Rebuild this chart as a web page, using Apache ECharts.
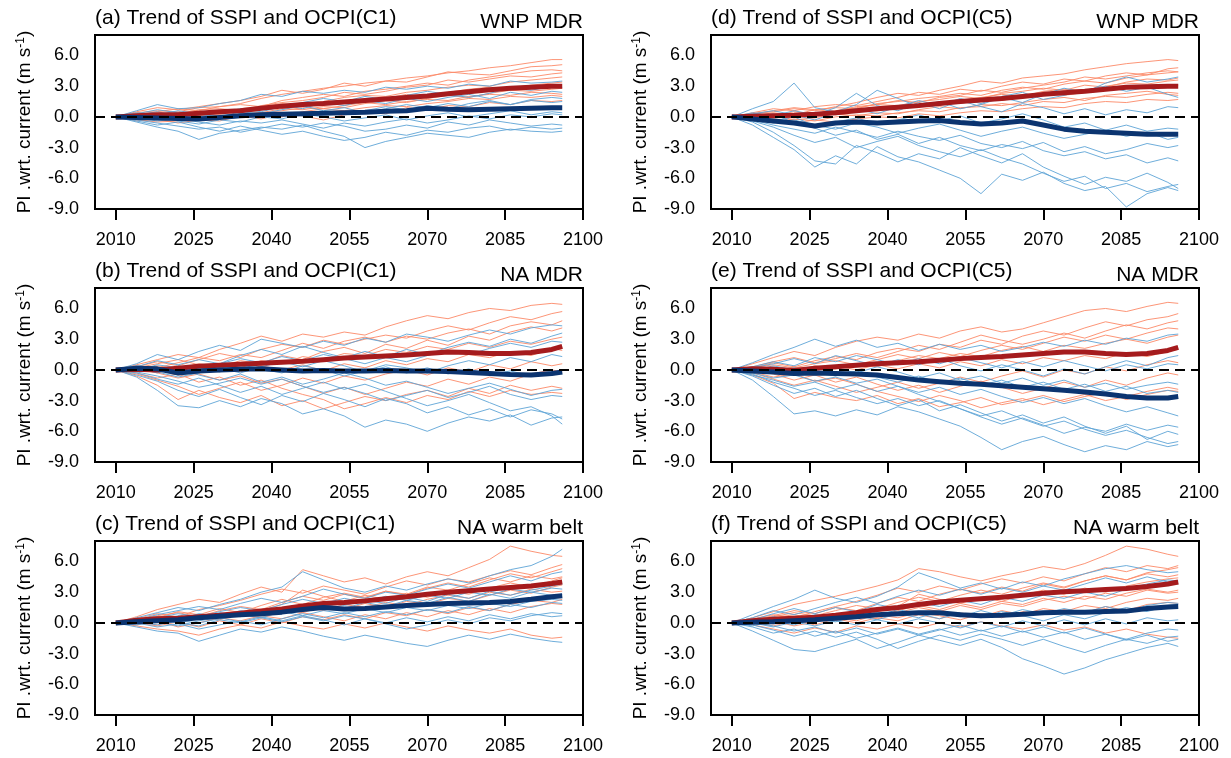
<!DOCTYPE html>
<html>
<head>
<meta charset="utf-8">
<script src="https://cdn.jsdelivr.net/npm/echarts@6/dist/echarts.min.js"></script>
<style>
  html, body { margin: 0; background: #fff; }
  #chart { width: 1231px; height: 758px; }
</style>
</head>
<body>
<div id="chart"></div>
<script>
// sample years (every 4 yr, last point 2096)
const years = [2010, 2014, 2018, 2022, 2026, 2030, 2034, 2038, 2042, 2046, 2050, 2054,
  2058, 2062, 2066, 2070, 2074, 2078, 2082, 2086, 2090, 2094, 2096];
const xTicks = [2010, 2025, 2040, 2055, 2070, 2085, 2100];
const panelTitles = ["(a) Trend of SSPI and OCPI(C1)", "(b) Trend of SSPI and OCPI(C1)", "(c) Trend of SSPI and OCPI(C1)",
  "(d) Trend of SSPI and OCPI(C5)", "(e) Trend of SSPI and OCPI(C5)", "(f) Trend of SSPI and OCPI(C5)"];
const regions = ["WNP MDR", "NA MDR", "NA warm belt", "WNP MDR", "NA MDR", "NA warm belt"];

// (a) WNP MDR, C1
const redMeanA = [0, 0.1, 0.2, 0.2, 0.35, 0.5, 0.6, 0.85, 1.05, 1.2, 1.3, 1.45, 1.6, 1.75, 1.9, 2.05, 2.25, 2.45, 2.65, 2.8, 2.9, 3.0, 3.0];
const blueMeanA = [0, -0.05, -0.1, -0.15, -0.2, -0.05, 0.1, 0.2, 0.25, 0.3, 0.35, 0.4, 0.45, 0.55, 0.6, 0.85, 0.75, 0.7, 0.75, 0.8, 0.85, 0.9, 0.9];
const redEnsA = [
  [0, 0.4, 0.6, 0.5, 0.9, 1.0, 1.3, 1.8, 2.2, 2.5, 2.8, 3.0, 3.3, 3.5, 3.8, 4.0, 4.3, 4.5, 4.8, 5.0, 5.3, 5.6, 5.6],
  [0, 0.2, 0.5, 0.8, 0.6, 1.0, 1.2, 1.0, 1.6, 1.9, 2.2, 2.0, 2.5, 2.7, 3.0, 3.3, 3.1, 3.6, 3.9, 4.2, 4.5, 4.6, 4.5],
  [0, -0.2, 0.1, 0.3, 0.5, 0.4, 0.8, 1.0, 1.3, 1.1, 1.5, 1.9, 2.1, 2.0, 2.4, 2.6, 2.9, 3.1, 3.0, 3.4, 3.6, 3.8, 3.9],
  [0, 0.1, -0.3, 0.0, 0.2, 0.6, 0.5, 0.7, 0.9, 1.3, 1.2, 1.6, 1.5, 1.8, 2.2, 2.0, 2.4, 2.7, 2.9, 2.8, 3.1, 3.3, 3.4],
  [0, 0.3, 0.2, -0.2, 0.1, 0.3, 0.6, 0.4, 0.8, 0.7, 1.0, 0.9, 1.3, 1.6, 1.4, 1.8, 2.1, 1.9, 2.3, 2.6, 2.5, 2.7, 2.8],
  [0, -0.3, -0.5, -0.4, -0.1, 0.2, 0.0, 0.4, 0.6, 0.9, 0.8, 1.1, 1.4, 1.2, 1.5, 1.7, 1.6, 2.0, 2.2, 2.1, 2.4, 2.3, 2.2],
  [0, 0.5, 0.9, 0.7, 1.0, 1.3, 1.6, 2.0, 2.6, 2.3, 2.7, 3.3, 3.0, 3.5, 3.4, 3.9, 4.4, 4.2, 4.1, 4.5, 4.9, 5.0, 5.1],
  [0, -0.1, 0.2, 0.4, 0.1, -0.1, 0.3, 0.2, 0.0, 0.5, 0.8, 0.6, 0.9, 1.1, 1.0, 1.3, 1.5, 1.8, 1.7, 2.0, 1.9, 2.1, 2.0],
  [0, 0.2, 0.0, 0.3, 0.7, 0.8, 0.6, 1.1, 1.4, 1.6, 1.9, 2.4, 2.2, 2.5, 2.9, 3.1, 3.6, 3.4, 3.7, 4.0, 3.9, 4.2, 4.3],
  [0, -0.4, -0.2, -0.6, -0.3, -0.4, 0.1, -0.2, 0.3, 0.1, -0.3, 0.2, 0.4, 0.3, 0.9, 0.7, 1.1, 1.0, 1.4, 1.2, 1.6, 1.5, 1.6]
];
const blueEnsA = [
  [0, 0.6, 1.2, 0.8, 0.9, 1.3, 1.6, 2.2, 2.0, 2.5, 2.3, 2.6, 2.4, 2.9, 2.7, 3.0, 2.8, 3.2, 3.0, 3.5, 3.3, 3.4, 3.5],
  [0, -0.5, -1.0, -1.4, -2.2, -1.6, -1.3, -1.0, -1.2, -0.8, -1.4, -1.9, -3.0, -2.4, -2.0, -1.6, -1.8, -2.0, -1.5, -1.2, -1.4, -1.5, -1.4],
  [0, 0.2, 0.5, 0.1, 0.3, 0.6, 0.4, 0.9, 1.2, 0.8, 1.4, 1.1, 1.6, 1.3, 1.8, 1.5, 1.9, 2.2, 1.8, 2.4, 2.1, 2.5, 2.4],
  [0, -0.3, -0.6, -0.9, -1.2, -1.0, -1.5, -1.1, -0.7, -1.0, -0.6, -0.9, -1.4, -1.2, -0.8, -1.1, -0.5, -0.8, -0.3, -0.6, -0.9, -0.7, -0.8],
  [0, 0.4, 0.2, 0.6, 0.3, 0.0, 0.5, 0.3, 0.7, 1.1, 0.6, 0.9, 0.4, 0.8, 1.2, 0.9, 1.3, 1.0, 1.5, 1.2, 1.6, 1.4, 1.5],
  [0, -0.2, 0.1, -0.4, -0.7, -0.3, -0.5, 0.0, -0.2, 0.3, 0.0, -0.4, -0.1, 0.2, -0.3, 0.1, 0.4, 0.0, 0.3, 0.6, 0.2, 0.5, 0.4],
  [0, 0.1, -0.2, 0.3, 0.0, 0.4, 0.8, 0.5, 1.0, 1.4, 1.8, 1.5, 2.0, 1.7, 2.1, 2.5, 2.2, 1.9, 2.3, 2.8, 2.6, 3.0, 2.9],
  [0, -0.4, -0.8, -0.5, -1.0, -1.4, -0.9, -1.3, -1.7, -1.4, -1.9, -2.3, -2.0, -1.5, -1.8, -1.3, -1.5, -1.1, -0.9, -1.3, -1.0, -1.2, -1.1],
  [0, 0.3, 0.7, 0.4, 0.1, -0.2, 0.2, -0.1, 0.4, 0.1, 0.5, 0.2, 0.6, 1.0, 0.7, 1.1, 0.8, 1.3, 1.6, 1.2, 1.7, 1.9, 1.8],
  [0, -0.1, -0.4, -0.2, -0.5, -0.8, -0.4, -0.6, -0.3, -0.7, -1.1, -0.6, -0.9, -0.5, -0.2, -0.6, -0.3, 0.1, -0.2, 0.2, 0.0, 0.3, 0.2]
];

// (b) NA MDR, C1
const redMeanB = [0, 0.05, 0.0, 0.15, 0.35, 0.45, 0.55, 0.65, 0.75, 0.85, 1.0, 1.15, 1.25, 1.35, 1.45, 1.6, 1.75, 1.7, 1.6, 1.6, 1.7, 2.0, 2.3];
const blueMeanB = [0, 0.15, 0.1, -0.3, -0.1, 0.0, 0.05, 0.1, 0.0, -0.1, -0.05, -0.1, -0.1, -0.05, -0.1, -0.1, -0.15, -0.25, -0.35, -0.45, -0.5, -0.35, -0.2];
const redEnsB = [
  [0, 0.5, 1.0, 1.5, 1.2, 2.0, 2.6, 3.3, 2.8, 3.5, 3.2, 3.7, 3.4, 4.2, 4.8, 5.3, 5.0, 5.6, 6.0, 5.8, 6.3, 6.5, 6.4],
  [0, -0.6, -1.5, -2.9, -2.0, -2.7, -3.2, -2.5, -3.5, -3.0, -3.8, -3.2, -2.6, -3.0, -2.4, -2.0, -2.6, -1.8, -2.3, -1.5, -2.0, -1.6, -1.8],
  [0, 0.3, 0.8, 0.4, 1.0, 1.6, 1.2, 2.0, 2.5, 2.2, 2.9, 2.5, 3.0, 3.4, 3.1, 3.8, 4.3, 3.9, 4.6, 5.2, 4.9, 5.5, 5.7],
  [0, -0.2, 0.3, -0.5, -0.2, 0.5, 0.2, 0.9, 0.6, 1.3, 1.0, 1.6, 1.4, 2.0, 1.7, 2.3, 2.0, 2.6, 2.2, 2.8, 2.5, 3.0, 3.2],
  [0, -0.4, -1.0, -1.6, -2.4, -1.8, -1.2, -2.0, -1.5, -0.8, -1.3, -0.6, -1.0, -0.4, 0.0, -0.5, 0.2, -0.2, 0.5, 0.1, 0.8, 0.4, 0.6],
  [0, 0.2, 0.6, 1.0, 0.5, 0.3, 0.9, 0.6, 1.4, 1.0, 1.8, 2.2, 1.6, 2.5, 2.1, 2.9, 2.4, 3.3, 2.9, 3.7, 4.2, 3.8, 4.1],
  [0, 0.1, -0.3, -0.8, -0.4, -1.0, -0.6, -1.3, -0.9, -1.6, -2.3, -1.7, -2.4, -1.8, -1.2, -1.6, -0.9, -1.4, -0.7, -1.1, -0.4, 0.0, -0.2],
  [0, 0.4, 0.2, 0.7, 1.2, 0.9, 1.5, 1.2, 1.9, 2.6, 2.1, 2.8, 3.2, 2.7, 3.3, 3.0, 3.6, 4.0, 3.5, 4.3, 4.7, 4.4, 4.8],
  [0, -0.1, 0.4, 0.1, 0.6, 0.3, -0.2, 0.4, 0.0, 0.5, -0.1, 0.6, 0.2, 0.9, 0.5, 1.1, 0.8, 1.5, 1.2, 1.8, 1.4, 2.1, 1.9],
  [0, -0.3, -0.8, -0.4, -1.2, -0.7, -1.5, -1.0, -1.8, -2.4, -2.9, -3.8, -3.3, -2.7, -3.2, -2.5, -2.9, -2.1, -2.6, -2.0, -2.4, -2.2, -2.3]
];
const blueEnsB = [
  [0, 0.6, 1.5, 1.0, 1.8, 2.4, 1.9, 3.0, 2.6, 2.2, 2.8, 2.4, 3.1, 2.7, 3.5, 3.2, 2.8, 3.4, 3.9, 3.5, 4.1, 4.4, 4.3],
  [0, -0.7, -2.0, -3.5, -3.7, -3.0, -3.6, -2.8, -3.3, -4.3, -3.8, -4.5, -5.6, -4.9, -5.3, -6.0, -5.2, -4.6, -5.0, -4.4, -5.4, -4.7, -4.6],
  [0, 0.2, -0.3, 0.4, 0.0, 0.6, 1.1, 0.7, 1.3, 0.9, 1.5, 1.1, 0.6, 1.2, 0.8, 1.4, 1.9, 1.5, 2.1, 2.6, 2.2, 2.8, 2.7],
  [0, -0.3, -0.9, -1.4, -0.8, -1.5, -2.2, -1.6, -2.4, -1.8, -1.2, -1.9, -1.4, -2.1, -2.8, -3.5, -3.0, -2.4, -3.2, -4.0, -3.6, -4.5, -5.3],
  [0, 0.4, 0.1, -0.4, 0.3, -0.2, 0.5, 0.1, -0.3, 0.4, 0.0, -0.6, -0.1, 0.5, 0.2, -0.3, 0.4, 0.9, 0.5, 1.2, 0.8, 1.5, 1.3],
  [0, -0.1, 0.5, 0.2, -0.5, -1.0, -0.4, -1.2, -0.7, -1.4, -0.9, -0.3, -0.8, -1.5, -1.1, -1.7, -2.3, -1.8, -1.3, -1.9, -2.5, -2.0, -1.9],
  [0, 0.3, 0.9, 0.5, 1.0, 0.6, 1.4, 2.0, 1.5, 2.3, 1.7, 1.2, 1.8, 1.3, 2.0, 1.5, 2.2, 2.7, 2.3, 3.0, 2.6, 3.3, 3.6],
  [0, -0.5, -1.1, -2.0, -2.6, -1.9, -2.7, -3.4, -2.5, -3.1, -2.3, -2.9, -3.6, -2.8, -3.3, -4.2, -3.6, -4.4, -3.8, -4.6, -3.9, -4.3, -4.8],
  [0, 0.1, -0.2, -0.7, -0.3, 0.2, -0.3, 0.3, 0.8, 0.3, 0.9, 0.4, -0.2, 0.3, -0.3, 0.2, -0.4, 0.1, -0.5, -0.1, -0.6, -0.2, -0.4],
  [0, -0.2, -0.6, -1.1, -1.7, -1.3, -0.8, -1.4, -0.9, -1.6, -2.2, -1.7, -2.3, -3.0, -2.5, -2.0, -2.7, -2.2, -1.6, -2.4, -2.9, -2.5, -2.6]
];

// (c) NA warm belt, C1
const redMeanC = [0, 0.25, 0.4, 0.45, 0.6, 0.75, 0.95, 1.15, 1.35, 1.65, 1.9, 2.0, 2.15, 2.35, 2.55, 2.8, 3.0, 3.15, 3.3, 3.45, 3.6, 3.85, 4.0];
const blueMeanC = [0, 0.1, 0.2, 0.3, 0.5, 0.65, 0.8, 0.9, 1.05, 1.3, 1.5, 1.35, 1.4, 1.55, 1.7, 1.8, 1.9, 1.95, 2.0, 2.1, 2.3, 2.55, 2.65];
const redEnsC = [
  [0, 0.6, 1.3, 1.8, 2.3, 2.0, 2.8, 3.5, 3.0, 5.2, 4.6, 4.0, 4.4, 3.8, 4.5, 5.0, 4.6, 5.4, 6.2, 7.5, 7.0, 6.6, 6.5],
  [0, -0.3, -0.6, -0.8, -1.2, -0.6, -0.2, -0.5, 0.1, -0.3, -0.6, -0.1, -0.5, 0.0, -0.4, -0.8, -0.3, -0.7, -1.0, -0.6, -1.2, -1.5, -1.4],
  [0, 0.3, 0.7, 1.0, 0.6, 1.2, 1.6, 1.3, 2.0, 2.6, 2.2, 2.8, 2.4, 3.1, 2.7, 3.4, 3.9, 3.5, 4.2, 4.8, 4.4, 5.0, 5.3],
  [0, 0.1, 0.4, 0.2, 0.8, 0.5, 1.1, 0.8, 1.4, 1.0, 1.6, 1.3, 1.9, 1.5, 2.1, 1.8, 2.4, 2.1, 2.7, 3.2, 2.9, 3.5, 3.7],
  [0, -0.2, 0.2, -0.4, 0.0, 0.5, 0.2, 0.7, 0.4, 1.0, 0.6, 0.2, 0.8, 0.4, 1.0, 0.6, 1.2, 0.8, 1.4, 1.0, 1.6, 1.9, 1.8],
  [0, 0.4, 0.9, 0.6, 1.3, 1.7, 2.2, 2.8, 3.3, 2.9, 3.6, 3.2, 2.8, 3.5, 4.1, 3.7, 4.3, 4.0, 4.6, 5.1, 4.7, 5.4, 5.7],
  [0, 0.0, -0.3, 0.1, -0.4, 0.2, -0.2, 0.4, 0.0, 0.6, 0.3, 0.8, 0.4, 1.0, 0.7, 1.3, 0.9, 1.5, 1.2, 1.8, 2.2, 2.0, 2.3],
  [0, 0.2, 0.5, 1.1, 0.8, 1.4, 1.0, 1.7, 2.3, 1.8, 2.5, 2.9, 2.5, 3.1, 2.8, 3.5, 3.2, 3.8, 4.4, 4.0, 4.6, 4.3, 4.5],
  [0, 0.1, -0.2, 0.3, 0.6, 0.3, 0.9, 0.5, 1.1, 1.6, 1.2, 1.8, 1.5, 2.0, 1.7, 2.3, 2.7, 2.4, 3.0, 2.7, 3.3, 3.0, 3.1],
  [0, 0.3, 0.6, 0.2, 0.5, 0.9, 0.6, 1.2, 1.8, 3.2, 2.6, 2.1, 2.7, 2.3, 2.9, 2.5, 3.1, 2.8, 3.4, 3.9, 3.5, 4.1, 4.4]
];
const blueEnsC = [
  [0, 0.5, 1.0, 1.5, 1.2, 1.8, 2.3, 3.0, 3.5, 5.0, 4.2, 3.4, 3.0, 3.6, 3.2, 3.8, 4.3, 3.9, 4.6, 5.2, 5.6, 6.5, 7.2],
  [0, -0.4, -0.8, -1.0, -1.8, -1.2, -0.6, -0.9, -0.4, -0.8, -1.3, -1.7, -1.2, -1.6, -2.0, -2.3, -1.7, -1.2, -1.6, -1.1, -1.5, -1.8, -1.9],
  [0, 0.2, 0.6, 0.3, 0.9, 0.6, 1.2, 0.9, 1.5, 1.1, 1.8, 1.4, 2.0, 1.6, 2.2, 1.9, 2.5, 2.1, 2.8, 2.4, 3.0, 3.4, 3.3],
  [0, -0.2, 0.1, -0.3, 0.2, 0.5, 0.1, 0.6, 0.2, 0.7, 0.3, -0.2, 0.4, 0.0, 0.5, 0.1, 0.6, 0.2, 0.8, 0.4, 0.9, 0.6, 0.7],
  [0, 0.3, 0.8, 1.2, 1.6, 1.3, 1.9, 2.4, 2.0, 2.6, 3.3, 2.8, 2.4, 3.0, 2.7, 3.3, 3.8, 3.4, 4.0, 4.6, 4.1, 4.8, 5.0],
  [0, 0.0, -0.4, -0.1, -0.6, -0.2, 0.2, -0.2, 0.4, 0.9, 0.5, 1.0, 0.6, 1.1, 0.8, 1.3, 1.0, 1.6, 1.2, 1.8, 1.5, 2.0, 1.9],
  [0, 0.4, 0.2, 0.7, 0.4, 1.0, 0.7, 1.3, 1.0, 1.6, 2.0, 1.7, 2.2, 1.9, 2.5, 2.1, 2.8, 2.4, 3.1, 2.7, 3.2, 3.6, 3.8],
  [0, -0.1, 0.3, 0.0, -0.3, 0.3, 0.0, 0.5, 0.1, 0.6, 0.2, 0.7, 0.4, -0.1, -0.6, -0.2, 0.3, -0.1, 0.5, 0.2, 0.7, 1.0, 0.9],
  [0, 0.2, 0.5, 0.9, 0.6, 1.1, 1.5, 1.2, 1.8, 2.3, 1.9, 2.4, 2.0, 2.6, 2.2, 2.7, 2.4, 3.0, 2.7, 3.3, 3.0, 2.7, 2.8],
  [0, 0.1, -0.2, 0.2, 0.0, 0.4, 0.8, 0.5, 1.1, 0.7, 1.2, 0.9, 1.4, 1.0, 1.5, 1.2, 1.7, 1.4, 1.9, 1.6, 2.1, 2.3, 2.2]
];

// (d) WNP MDR, C5
const redMeanD = [0, 0.05, 0.1, 0.15, 0.25, 0.4, 0.6, 0.8, 0.95, 1.1, 1.3, 1.5, 1.65, 1.8, 2.0, 2.2, 2.35, 2.5, 2.7, 2.9, 2.95, 3.0, 3.0];
const blueMeanD = [0, -0.2, -0.4, -0.6, -0.9, -0.6, -0.5, -0.6, -0.5, -0.4, -0.35, -0.55, -0.7, -0.6, -0.4, -0.8, -1.2, -1.4, -1.5, -1.6, -1.7, -1.7, -1.7];
const redEnsD = [
  [0, 0.3, 0.5, 0.8, 0.6, 1.0, 1.4, 1.9, 2.3, 2.1, 2.6, 3.0, 3.5, 3.3, 3.8, 4.0, 4.2, 4.6, 4.9, 5.2, 5.4, 5.6, 5.5],
  [0, 0.1, 0.4, 0.2, 0.7, 0.9, 0.8, 1.3, 1.5, 1.8, 2.0, 2.3, 2.1, 2.6, 2.9, 2.7, 3.2, 3.5, 3.3, 3.8, 4.1, 4.3, 4.4],
  [0, -0.2, 0.0, 0.3, 0.2, 0.5, 0.7, 0.6, 1.0, 1.3, 1.2, 1.6, 1.9, 2.2, 2.0, 2.5, 2.7, 2.6, 3.0, 3.3, 3.2, 3.5, 3.6],
  [0, 0.2, -0.1, 0.1, 0.4, 0.2, 0.5, 0.9, 0.8, 1.1, 1.4, 1.3, 1.7, 1.6, 2.0, 2.3, 2.1, 2.4, 2.6, 2.9, 2.8, 3.0, 3.1],
  [0, -0.3, -0.5, -0.2, -0.4, 0.0, 0.2, 0.1, 0.4, 0.6, 0.5, 0.9, 1.0, 1.3, 1.1, 1.5, 1.4, 1.8, 2.0, 1.9, 2.2, 2.4, 2.3],
  [0, 0.4, 0.8, 0.6, 1.0, 1.2, 1.1, 1.5, 1.9, 2.4, 2.2, 2.7, 2.5, 3.0, 3.4, 3.2, 3.7, 3.5, 4.0, 4.3, 4.1, 4.7, 4.8],
  [0, 0.0, 0.2, -0.3, -0.1, 0.3, 0.1, 0.4, 0.3, 0.7, 1.0, 0.8, 1.2, 1.1, 1.4, 1.7, 1.9, 1.6, 2.1, 2.3, 2.5, 2.2, 2.1],
  [0, 0.2, 0.1, 0.5, 0.3, 0.6, 1.0, 1.2, 1.1, 1.5, 1.7, 2.0, 1.8, 2.3, 2.5, 2.8, 2.6, 3.1, 2.9, 3.4, 3.7, 3.6, 3.8],
  [0, -0.1, -0.4, -0.6, -0.3, -0.5, -0.2, 0.0, -0.1, 0.3, 0.1, 0.4, 0.6, 0.5, 0.8, 1.0, 0.9, 1.3, 1.5, 1.4, 1.7, 1.6, 1.7],
  [0, 0.3, 0.6, 0.9, 0.7, 0.5, 0.9, 1.2, 1.6, 1.4, 1.9, 2.1, 2.6, 2.4, 2.8, 3.1, 3.4, 3.9, 3.7, 4.0, 4.3, 4.5, 4.4]
];
const blueEnsD = [
  [0, 0.8, 1.5, 3.3, 0.9, 0.5, 1.2, 2.6, 1.8, 1.0, 1.5, 0.8, 1.2, 1.9, 1.4, 2.2, 2.8, 2.4, 3.3, 3.9, 3.4, 3.7, 3.9],
  [0, -0.8, -2.0, -3.2, -4.9, -3.8, -4.6, -2.9, -3.9, -4.4, -5.2, -6.0, -7.5, -5.6, -6.2, -5.4, -6.5, -7.2, -6.8, -8.8, -7.5, -6.9, -7.2],
  [0, -0.3, -0.8, -1.2, -1.6, -1.0, -1.5, -2.0, -1.4, -1.9, -2.3, -1.8, -2.6, -3.0, -2.4, -3.3, -3.8, -3.4, -4.1, -3.7, -4.5, -4.0, -4.3],
  [0, 0.4, 0.1, 0.6, 0.2, 0.9, 2.3, 1.1, 0.6, 1.4, 0.8, 1.6, 1.0, 0.5, 1.3, 0.9, 0.3, 0.8, 0.2, 0.7, 0.4, 1.0, 0.9],
  [0, -0.5, -1.5, -2.8, -4.3, -4.6, -2.8, -3.5, -4.4, -3.6, -4.1, -3.0, -3.8, -4.5, -3.6, -4.9, -5.8, -6.6, -5.9, -6.3, -5.5, -6.4, -7.0],
  [0, 0.2, -0.4, 0.0, -0.9, -0.5, -0.1, -0.7, -0.3, 0.2, -0.4, 0.1, -0.6, -0.2, 0.3, -0.3, -1.0, -0.6, -1.3, -0.8, -1.4, -1.1, -1.2],
  [0, -0.2, 0.3, -0.6, -1.1, -1.8, -1.3, -2.2, -1.7, -2.6, -2.0, -2.8, -3.3, -2.7, -3.1, -2.5, -3.4, -2.9, -3.6, -3.2, -2.6, -3.0, -2.8],
  [0, 0.3, 0.6, 0.2, -0.3, 0.4, 0.8, 0.3, 1.0, 1.6, 1.1, 1.8, 1.3, 2.0, 2.4, 1.7, 2.1, 2.6, 3.0, 2.5, 2.9, 2.2, 1.9],
  [0, -0.4, -1.0, -1.8, -2.5, -2.0, -3.0, -2.4, -1.9, -2.8, -3.4, -3.9, -3.2, -4.0, -4.6, -5.5, -6.3, -5.8, -7.0, -6.5, -7.3, -6.8, -6.6],
  [0, -0.1, -0.6, -0.3, -0.8, -1.2, -0.6, -1.0, -1.6, -1.1, -0.7, -1.3, -1.9, -1.4, -1.0, -1.6, -2.1, -1.7, -1.3, -1.9, -1.5, -2.2, -2.0]
];

// (e) NA MDR, C5
const redMeanE = [0, 0.1, 0.05, -0.05, 0.15, 0.3, 0.45, 0.6, 0.7, 0.8, 0.95, 1.1, 1.2, 1.3, 1.45, 1.6, 1.75, 1.75, 1.6, 1.5, 1.6, 1.9, 2.2];
const blueMeanE = [0, -0.1, -0.2, -0.35, -0.3, -0.35, -0.4, -0.5, -0.75, -1.0, -1.15, -1.3, -1.4, -1.55, -1.7, -1.85, -2.0, -2.15, -2.35, -2.6, -2.75, -2.75, -2.6];
const redEnsE = [
  [0, 0.6, 1.2, 1.8, 1.4, 2.2, 2.8, 3.2, 2.9, 3.5, 3.1, 3.8, 4.2, 3.7, 4.0, 4.6, 5.2, 5.8, 6.0, 5.7, 6.2, 6.6, 6.5],
  [0, -0.5, -1.3, -2.8, -2.2, -2.7, -3.0, -2.5, -3.3, -2.8, -3.6, -3.2, -2.7, -3.4, -3.0, -2.5, -3.1, -2.6, -2.2, -2.9, -2.4, -2.0, -2.1],
  [0, 0.2, 0.7, 0.3, 0.9, 1.3, 1.0, 1.7, 2.1, 1.8, 2.5, 2.2, 2.9, 2.5, 3.3, 3.8, 3.4, 4.1, 4.7, 4.3, 4.9, 5.2, 5.5],
  [0, -0.1, 0.3, -0.2, 0.4, 0.1, 0.6, 0.3, 0.9, 1.4, 1.1, 1.6, 1.3, 1.9, 2.3, 1.8, 2.4, 2.1, 2.6, 3.0, 2.6, 3.2, 3.4],
  [0, -0.3, -0.9, -1.5, -1.0, -1.6, -2.2, -1.7, -1.2, -1.8, -1.3, -0.7, -1.2, -0.6, -0.1, -0.7, 0.0, -0.4, 0.3, -0.1, 0.5, 0.9, 0.7],
  [0, 0.3, 0.8, 1.2, 0.7, 1.1, 1.6, 1.2, 1.8, 2.4, 2.0, 2.7, 3.4, 2.9, 2.5, 3.0, 3.6, 3.1, 3.8, 4.4, 4.0, 4.6, 4.8],
  [0, 0.0, -0.4, -1.0, -0.5, -1.2, -0.7, -1.4, -2.0, -1.5, -2.2, -1.6, -1.1, -1.7, -2.3, -1.8, -1.2, -1.7, -1.0, -1.5, -0.8, -0.3, -0.5],
  [0, 0.2, 0.5, 0.2, 0.6, 0.9, 0.5, 1.0, 1.5, 1.1, 1.7, 1.3, 1.9, 2.4, 2.0, 2.6, 3.2, 2.8, 3.4, 3.0, 3.6, 4.1, 4.0],
  [0, 0.1, -0.2, 0.3, -0.1, 0.4, 0.0, 0.5, 0.1, 0.6, 0.2, 0.8, 0.4, 1.0, 0.6, 1.2, 0.9, 1.4, 1.1, 1.7, 1.3, 1.8, 2.0],
  [0, -0.2, -0.7, -0.4, -1.1, -0.8, -1.4, -2.1, -2.6, -3.1, -2.5, -3.0, -3.7, -3.2, -2.8, -3.4, -2.9, -2.4, -3.0, -2.6, -2.1, -1.7, -1.9]
];
const blueEnsE = [
  [0, 0.7, 1.5, 2.2, 3.0, 2.3, 2.9, 2.2, 2.6, 1.9, 2.5, 2.0, 2.4, 1.8, 2.2, 2.7, 2.3, 2.9, 2.5, 3.1, 2.8, 3.4, 3.5],
  [0, -1.0, -2.6, -4.3, -4.0, -4.5, -3.9, -4.4, -3.6, -4.1, -4.8, -5.5, -6.6, -7.8, -7.0, -6.5, -7.3, -8.0, -7.4, -7.8, -7.0, -7.5, -7.3],
  [0, 0.3, 0.8, 0.4, 1.2, 0.8, 1.4, 1.0, 0.5, 1.1, 0.6, 1.2, 0.7, 0.2, 0.8, 0.3, 0.9, 0.4, -0.1, 0.5, 0.1, 0.6, 0.5],
  [0, -0.4, -1.2, -1.8, -2.5, -2.0, -2.7, -3.3, -2.8, -3.5, -3.0, -3.8, -4.5, -4.0, -4.8, -5.5, -5.0, -5.8, -6.4, -5.9, -6.6, -7.2, -7.0],
  [0, -0.1, 0.4, 0.0, -0.5, 0.2, -0.3, 0.3, -0.2, -0.8, -0.3, -1.0, -0.6, -1.3, -0.8, -1.5, -1.0, -1.7, -1.3, -1.9, -1.5, -1.2, -1.4],
  [0, -0.6, -1.5, -2.3, -1.8, -2.6, -2.0, -2.8, -3.5, -2.9, -4.0, -3.4, -4.2, -5.0, -4.4, -5.2, -4.6, -5.5, -6.2, -5.5, -6.8, -6.0, -6.3],
  [0, 0.2, 0.6, 1.1, 0.6, 1.4, 0.9, 0.4, 1.0, 0.5, 1.1, 0.4, -0.1, 0.5, 0.0, -0.6, 0.1, -0.4, 0.3, 0.9, 0.4, 1.2, 1.4],
  [0, -0.3, -0.8, -0.5, -1.1, -0.7, -1.3, -0.9, -1.6, -2.2, -1.7, -2.4, -1.9, -2.6, -3.2, -2.7, -3.3, -2.8, -3.5, -4.1, -3.6, -4.2, -4.5],
  [0, 0.1, -0.3, 0.2, -0.2, -0.6, -0.1, -0.7, -1.2, -0.6, -1.3, -0.8, -1.5, -1.0, -1.7, -1.2, -1.9, -1.4, -2.1, -1.6, -2.3, -2.0, -2.2],
  [0, -0.5, -1.0, -1.6, -1.2, -1.9, -1.4, -2.1, -1.6, -2.4, -3.1, -3.8, -4.6, -5.3, -4.7, -5.4, -6.2, -5.6, -6.0, -5.3, -5.9, -5.4, -5.6]
];

// (f) NA warm belt, C5
const redMeanF = [0, 0.2, 0.35, 0.45, 0.55, 0.75, 1.0, 1.3, 1.5, 1.8, 2.05, 2.2, 2.35, 2.5, 2.7, 2.9, 3.05, 3.15, 3.25, 3.35, 3.55, 3.8, 4.0];
const blueMeanF = [0, 0.05, 0.1, 0.2, 0.3, 0.45, 0.6, 0.8, 0.9, 1.0, 1.0, 0.8, 0.7, 0.75, 0.85, 1.0, 1.05, 1.05, 1.1, 1.15, 1.4, 1.55, 1.6];
const redEnsF = [
  [0, 0.5, 1.1, 1.8, 2.2, 2.6, 3.1, 3.6, 4.2, 5.3, 5.0, 4.5, 4.1, 4.6, 5.0, 5.5, 5.2, 5.8, 6.6, 7.5, 7.2, 6.7, 6.5],
  [0, -0.2, -0.6, -1.0, -0.5, -0.9, -0.3, -0.6, -0.1, -0.5, 0.0, -0.4, 0.1, -0.3, -0.6, -0.2, -0.7, -0.4, -1.0, -0.6, -1.1, -1.4, -1.5],
  [0, 0.3, 0.6, 1.0, 0.7, 1.2, 1.7, 1.4, 2.0, 2.5, 2.1, 2.7, 3.2, 2.8, 3.4, 3.9, 3.5, 4.1, 4.6, 4.2, 4.9, 5.2, 5.4],
  [0, 0.1, 0.4, 0.1, 0.6, 0.3, 0.9, 0.6, 1.2, 1.7, 1.3, 1.9, 1.5, 2.1, 1.8, 2.4, 2.0, 2.6, 2.3, 2.9, 3.3, 3.0, 3.2],
  [0, -0.1, 0.2, -0.3, 0.1, 0.5, 0.2, 0.8, 0.5, 1.0, 0.7, 0.3, 0.9, 0.5, 1.1, 0.8, 1.3, 1.0, 1.6, 1.2, 1.8, 2.0, 1.9],
  [0, 0.4, 0.8, 0.5, 1.1, 1.6, 2.1, 2.7, 3.4, 3.0, 3.6, 3.2, 3.8, 4.3, 3.9, 4.5, 4.1, 4.8, 5.4, 5.0, 5.6, 5.3, 5.6],
  [0, 0.2, -0.1, 0.3, -0.2, 0.4, 0.0, 0.5, 0.2, 0.8, 0.4, 1.0, 0.6, 1.2, 0.8, 1.4, 1.1, 1.7, 1.4, 2.0, 2.4, 2.2, 2.4],
  [0, 0.3, 0.7, 1.2, 0.9, 1.5, 1.2, 1.9, 2.5, 2.1, 2.8, 3.3, 2.9, 3.5, 3.1, 3.8, 3.4, 4.1, 4.6, 4.2, 4.8, 4.5, 4.7],
  [0, 0.0, -0.3, 0.2, 0.5, 0.2, 0.8, 0.4, 1.0, 1.5, 1.1, 1.7, 1.3, 1.9, 1.6, 2.2, 2.6, 2.3, 2.9, 2.6, 3.2, 2.9, 3.0],
  [0, 0.2, 0.5, 0.8, 0.4, 0.9, 0.5, 1.1, 1.6, 2.8, 2.3, 1.9, 2.5, 2.1, 2.7, 3.2, 2.8, 3.4, 3.0, 3.6, 4.0, 4.3, 4.4]
];
const blueEnsF = [
  [0, 0.8, 1.6, 2.3, 3.2, 2.4, 2.0, 2.6, 3.5, 4.9, 4.2, 3.4, 3.9, 3.3, 4.0, 3.6, 4.3, 4.8, 5.3, 5.6, 5.2, 4.9, 5.0],
  [0, -0.8, -1.7, -2.6, -2.8, -2.2, -1.6, -2.5, -1.9, -1.2, -1.7, -2.2, -1.6, -2.4, -3.5, -4.2, -5.0, -4.4, -3.6, -3.0, -2.4, -2.0, -2.3],
  [0, 0.3, 0.9, 1.4, 0.9, 1.5, 1.1, 1.8, 1.4, 2.0, 1.6, 2.2, 1.8, 2.5, 2.1, 2.7, 2.4, 3.0, 2.6, 3.3, 3.8, 4.2, 4.1],
  [0, -0.4, -1.0, -0.6, -1.3, -0.8, -1.5, -1.0, -0.5, -1.1, -0.6, -1.2, -0.7, -1.3, -0.8, -1.4, -0.9, -1.6, -1.1, -1.7, -1.2, -1.8, -1.6],
  [0, 0.2, 0.6, 0.3, 0.8, 0.5, 1.1, 0.7, 1.3, 0.9, 0.4, 1.0, 0.5, 1.1, 0.7, 0.2, 0.8, 0.4, 1.0, 1.5, 1.1, 1.7, 1.8],
  [0, -0.2, -0.7, -1.3, -0.8, -1.4, -0.9, -1.6, -2.5, -1.8, -1.2, -1.7, -1.1, -1.6, -2.2, -1.6, -2.3, -2.9, -2.2, -1.6, -2.0, -1.4, -1.3],
  [0, 0.5, 1.2, 0.8, 1.4, 2.0, 2.5, 1.9, 2.6, 3.2, 2.7, 3.3, 2.8, 3.4, 3.0, 3.6, 3.2, 3.8, 4.4, 3.9, 4.5, 4.0, 3.8],
  [0, 0.0, -0.4, 0.1, -0.3, 0.2, -0.2, 0.3, -0.1, 0.4, 0.0, -0.5, 0.1, -0.4, 0.2, -0.3, 0.3, -0.2, 0.4, -0.1, 0.5, 0.2, 0.3],
  [0, -0.3, 0.2, -0.2, 0.4, 0.1, 0.7, 0.3, 0.9, 0.5, 1.1, 0.6, 1.2, 0.7, 1.3, 0.9, 1.4, 1.0, 1.6, 1.1, 1.7, 2.0, 1.9],
  [0, 0.1, -0.3, -0.8, -0.4, -1.0, -0.5, -1.1, -0.6, -1.2, -0.7, -0.2, -0.8, -0.3, -0.9, -0.4, -1.0, -0.5, -1.1, -1.6, -1.0, -0.6, -0.7]
];

const panels = [
  { red: redEnsA, blue: blueEnsA, redMean: redMeanA, blueMean: blueMeanA },
  { red: redEnsB, blue: blueEnsB, redMean: redMeanB, blueMean: blueMeanB },
  { red: redEnsC, blue: blueEnsC, redMean: redMeanC, blueMean: blueMeanC },
  { red: redEnsD, blue: blueEnsD, redMean: redMeanD, blueMean: blueMeanD },
  { red: redEnsE, blue: blueEnsE, redMean: redMeanE, blueMean: blueMeanE },
  { red: redEnsF, blue: blueEnsF, redMean: redMeanF, blueMean: blueMeanF }
];

const FONT = "Liberation Sans";
const gridLefts = [95, 711];
const gridTops = [35, 288, 541];
const gridW = 488, gridH = 174;

const grids = [], xAxes = [], yAxes = [], titles = [], series = [];

const toPts = (arr) => years.map((y, i) => [y, arr[i]]);

panels.forEach((p, i) => {
  const left = gridLefts[i < 3 ? 0 : 1];
  const top = gridTops[i % 3];
  grids.push({
    left: left, top: top, width: gridW, height: gridH,
    show: true, borderColor: "#000", borderWidth: 2, backgroundColor: "transparent"
  });
  xAxes.push({
    type: "value", gridIndex: i, min: 2006, max: 2100,
    axisLine: { show: false, onZero: false },
    splitLine: { show: false },
    axisTick: { show: true, length: 11, customValues: xTicks, lineStyle: { color: "#000", width: 2 } },
    axisLabel: {
      customValues: xTicks, margin: 22, fontSize: 18, color: "#000", fontFamily: FONT,
      formatter: (v) => String(v)
    }
  });
  yAxes.push({
    type: "value", gridIndex: i, min: -9, max: 8, interval: 3,
    axisLine: { show: false },
    axisTick: { show: false },
    splitLine: { show: false },
    axisLabel: {
      margin: 16, fontSize: 18, color: "#000", fontFamily: FONT,
      formatter: (v) => (v > 7 ? "" : v.toFixed(1))
    },
    name: "PI .wrt. current (m s{sup|-1})",
    nameLocation: "middle", nameRotate: 90, nameGap: 61,
    nameTextStyle: {
      fontSize: 19, color: "#000", fontFamily: FONT,
      rich: { sup: { fontSize: 12, verticalAlign: "top", fontFamily: FONT, color: "#000" } }
    }
  });
  titles.push({
    text: panelTitles[i], left: left, top: top - 27, padding: 0,
    textStyle: { fontSize: 21, fontWeight: "normal", color: "#000", fontFamily: FONT }
  });
  titles.push({
    text: regions[i], right: 1231 - left - gridW, top: top - 23, padding: 0,
    textStyle: { fontSize: 21, fontWeight: "normal", color: "#000", fontFamily: FONT }
  });

  p.red.forEach((arr) => series.push({
    type: "line", xAxisIndex: i, yAxisIndex: i, data: toPts(arr),
    symbol: "none", silent: true, z: 2,
    lineStyle: { width: 1, color: "#fc8a68", opacity: 0.9 }
  }));
  p.blue.forEach((arr) => series.push({
    type: "line", xAxisIndex: i, yAxisIndex: i, data: toPts(arr),
    symbol: "none", silent: true, z: 3,
    lineStyle: { width: 1, color: "#5ea4d6", opacity: 0.9 }
  }));
  series.push({
    type: "line", xAxisIndex: i, yAxisIndex: i, data: toPts(p.redMean),
    symbol: "none", silent: true, z: 4,
    lineStyle: { width: 5, color: "#a51b1d" }
  });
  series.push({
    type: "line", xAxisIndex: i, yAxisIndex: i, data: toPts(p.blueMean),
    symbol: "none", silent: true, z: 5,
    lineStyle: { width: 5, color: "#0b3470" },
    markLine: {
      silent: true, symbol: "none", label: { show: false }, z: 6,
      lineStyle: { color: "#000", width: 2, type: [10, 6] },
      data: [{ yAxis: 0 }]
    }
  });
});

const chart = echarts.init(document.getElementById("chart"), null, { renderer: "canvas" });
chart.setOption({
  backgroundColor: "#fff",
  animation: false,
  title: titles,
  grid: grids,
  xAxis: xAxes,
  yAxis: yAxes,
  series: series
});
</script>
</body>
</html>
